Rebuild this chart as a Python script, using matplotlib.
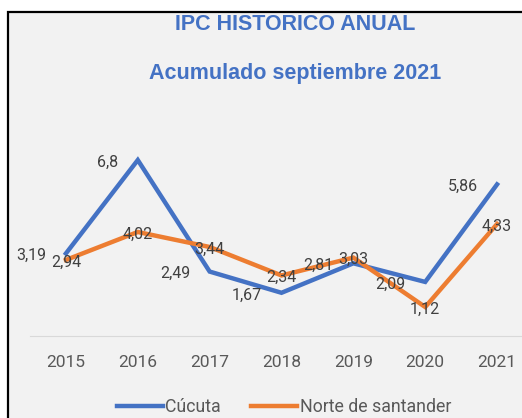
import matplotlib.pyplot as plt
from matplotlib.patches import Rectangle

years = ['2015', '2016', '2017', '2018', '2019', '2020', '2021']
cucuta = [3.19, 6.8, 2.49, 1.67, 2.81, 2.09, 5.86]
norte = [2.94, 4.02, 3.44, 2.34, 3.03, 1.12, 4.33]

blue = '#4472C4'
orange = '#ED7D31'
plt.rcParams['font.family'] = ['Roboto', 'DejaVu Sans']

fig = plt.figure(figsize=(5.22, 4.18), dpi=100)
fig.patch.set_facecolor('white')
fig.patches.append(Rectangle((8 / 522, -0.05), 1.1, (418 - 12) / 418 + 0.05,
                             transform=fig.transFigure, facecolor='#f2f2f2',
                             edgecolor='black', linewidth=1.6, zorder=-10))

ax = fig.add_axes([30 / 522, 82 / 418, 503 / 522, 207 / 418])
ax.set_facecolor('none')
x = list(range(len(years)))
ax.plot(x, cucuta, color=blue, lw=3.2, label='Cúcuta', solid_joinstyle='miter')
ax.plot(x, norte, color=orange, lw=3.2, label='Norte de santander', solid_joinstyle='miter')
ax.set_xlim(-0.5, 6.5)
ax.set_ylim(0, 8)
ax.set_yticks([])
ax.set_xticks(x)
ax.set_xticklabels(years, fontsize=12.5, color='#595959')
ax.tick_params(axis='x', length=0, pad=14)
for s in ['top', 'right', 'left']:
    ax.spines[s].set_visible(False)
ax.spines['bottom'].set_color('#d9d9d9')

# data labels: Cúcuta to the left of the point, Norte centred on it
for i, v in enumerate(cucuta):
    ax.annotate(f'{v:g}'.replace('.', ','), (i, v), xytext=(-14, -1.5), textcoords='offset points',
                ha='right', va='center', fontsize=11.5, color='#404040')
for i, v in enumerate(norte):
    ax.annotate(f'{v:g}'.replace('.', ','), (i, v), xytext=(0, -1.5), textcoords='offset points',
                ha='center', va='center', fontsize=11.5, color='#404040')

fig.text(295 / 522, 1 - 25 / 418, 'IPC HISTORICO ANUAL', ha='center', va='center',
         fontsize=15.5, fontweight='bold', color=blue, family='Liberation Sans')
fig.text(295 / 522, 1 - 73 / 418, 'Acumulado septiembre 2021', ha='center', va='center',
         fontsize=15.5, fontweight='bold', color=blue, family='Liberation Sans')

fig.legend(loc='center', bbox_to_anchor=(284 / 522, 1 - 407 / 418), ncol=2, frameon=False,
           fontsize=12.8, handlelength=2.6, handletextpad=0.15, columnspacing=1.7,
           labelcolor='#595959')

fig.savefig('out.png', dpi=100)
